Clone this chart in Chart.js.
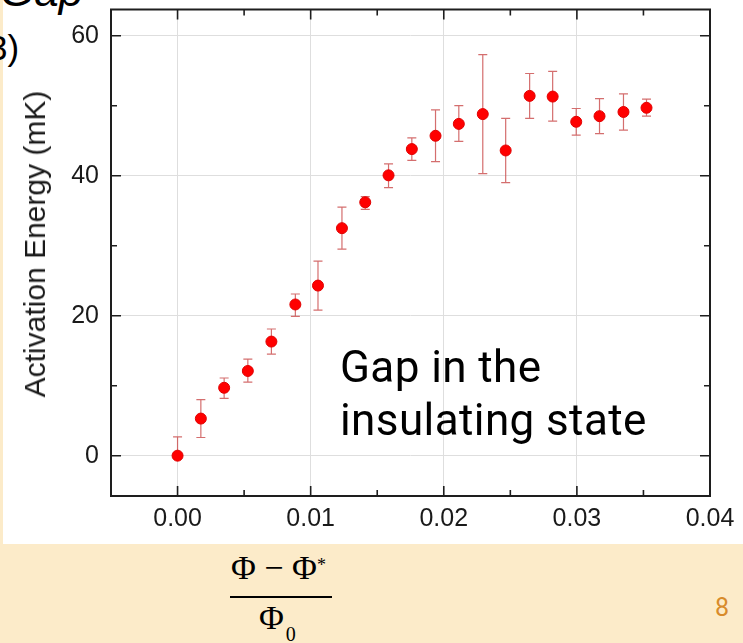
<!DOCTYPE html>
<html>
<head>
<meta charset="utf-8">
<script src="https://cdn.jsdelivr.net/npm/chart.js@4.4.1/dist/chart.umd.min.js"></script>
<style>
  html, body { margin: 0; padding: 0; }
  body { width: 743px; height: 643px; background: #fcebc9; position: relative; overflow: hidden; font-family: "Liberation Sans", Arial, sans-serif; }
  #paper { position: absolute; left: 3px; top: 0; width: 740px; height: 544px; background: #fff; }
  #wrap { position: absolute; left: 0; top: 0; width: 743px; height: 545px; }
  .abs { position: absolute; white-space: nowrap; }
  #ytitle { left: 35px; top: 244px; font-size: 30px; color: #1a1a1a; transform: translate(-50%, -50%) rotate(-90deg); }
  #note { left: 340px; top: 341px; font-family: Roboto, sans-serif; font-size: 44px; line-height: 53px; letter-spacing: 0.4px; color: #000; }
  .frac { font-family: "Liberation Serif", "Times New Roman", serif; font-size: 34px; line-height: 34px; color: #000; }
  #num { left: 231px; top: 551px; }
  #num sup { font-size: 18px; position: relative; top: -3px; vertical-align: top; }
  #bar { position: absolute; left: 230px; top: 596px; width: 102px; height: 1.5px; background: #000; }
  #den { left: 259px; top: 601px; }
  #den sub { font-size: 20px; vertical-align: -12px; margin-left: 2px; }
  #page { left: 715px; top: 595px; font-family: Roboto, sans-serif; font-size: 25px; line-height: 25px; color: #d88b2b; }
  #cut1 { left: 0px; top: -34px; font-size: 44px; font-style: italic; color: #000; }
  #cut2 { left: -12px; top: 28px; font-size: 35px; color: #000; }
</style>
</head>
<body>
<div id="paper"></div>
<div class="abs" id="cut1">Gap</div>
<div class="abs" id="cut2">3)</div>
<div id="wrap"><canvas id="gapChart" width="743" height="545"></canvas></div>
<div class="abs" id="ytitle">Activation Energy (mK)</div>
<div class="abs" id="note">Gap in the<br>insulating state</div>
<div class="abs frac" id="num">Φ − Φ<sup>*</sup></div>
<div id="bar"></div>
<div class="abs frac" id="den">Φ<sub>0</sub></div>
<div class="abs" id="page">8</div>

<script>
// flux offset (Φ-Φ*)/Φ0
const fluxVals = [0, 0.00175, 0.0035, 0.00528, 0.00705, 0.00885, 0.01055, 0.01235, 0.0141, 0.01585, 0.0176,
                  0.01938, 0.02113, 0.02293, 0.02465, 0.02645, 0.02818, 0.02995, 0.0317, 0.0335, 0.03523];
// activation energy (mK)
const gapVals = [0, 5.3, 9.7, 12.1, 16.3, 21.6, 24.3, 32.5, 36.2, 40.05, 43.8,
                 45.7, 47.4, 48.8, 43.6, 51.4, 51.3, 47.7, 48.5, 49.1, 49.7];
// error bars, upper / lower
const errHi = [2.7, 2.7, 1.4, 1.7, 1.8, 1.5, 3.5, 3.0, 0.8, 1.65, 1.6, 3.7, 2.6, 8.5, 4.6, 3.2, 3.6, 1.9, 2.5, 2.6, 1.25];
const errLo = [0, 2.7, 1.5, 1.6, 1.8, 1.7, 3.5, 3.0, 1.0, 1.75, 1.6, 3.7, 2.5, 8.5, 4.6, 3.2, 3.5, 1.9, 2.5, 2.6, 1.2];
// axes
const xRange = [-0.005, 0.04];
const yRange = [-5.76, 63.74];
const xStep = 0.01;
const yStep = 20;

const points = fluxVals.map((x, i) => ({ x: x, y: gapVals[i] }));

// error bars + frame with inward ticks
const errFrame = {
    id: 'errFrame',
    beforeDatasetsDraw(chart) {
        const ctx = chart.ctx, xs = chart.scales.x, ys = chart.scales.y;
        ctx.save();
        ctx.strokeStyle = 'rgba(205,85,85,0.85)';
        ctx.lineWidth = 1.2;
        points.forEach((p, i) => {
            const px = xs.getPixelForValue(p.x);
            const top = ys.getPixelForValue(p.y + errHi[i]);
            const bot = ys.getPixelForValue(p.y - errLo[i]);
            ctx.beginPath();
            ctx.moveTo(px, top); ctx.lineTo(px, bot);
            if (errHi[i] > 0) { ctx.moveTo(px - 4.5, top); ctx.lineTo(px + 4.5, top); }
            if (errLo[i] > 0) { ctx.moveTo(px - 4.5, bot); ctx.lineTo(px + 4.5, bot); }
            ctx.stroke();
        });
        ctx.restore();
    },
    afterDraw(chart) {
        const ctx = chart.ctx, a = chart.chartArea, xs = chart.scales.x, ys = chart.scales.y;
        ctx.save();
        ctx.strokeStyle = '#1e1e1e';
        ctx.lineWidth = 2;
        ctx.strokeRect(a.left, a.top, a.right - a.left, a.bottom - a.top);
        ctx.lineWidth = 1.6;
        const mids = (ticks) => ticks.slice(1).map((t, i) => (t.value + ticks[i].value) / 2);
        ctx.beginPath();
        xs.ticks.forEach(t => {
            const px = xs.getPixelForValue(t.value);
            ctx.moveTo(px, a.bottom); ctx.lineTo(px, a.bottom - 10);
            ctx.moveTo(px, a.top); ctx.lineTo(px, a.top + 10);
        });
        mids(xs.ticks).forEach(v => {
            const px = xs.getPixelForValue(v);
            ctx.moveTo(px, a.bottom); ctx.lineTo(px, a.bottom - 6);
            ctx.moveTo(px, a.top); ctx.lineTo(px, a.top + 6);
        });
        ys.ticks.forEach(t => {
            const py = ys.getPixelForValue(t.value);
            ctx.moveTo(a.left, py); ctx.lineTo(a.left + 10, py);
            ctx.moveTo(a.right, py); ctx.lineTo(a.right - 10, py);
        });
        mids(ys.ticks).forEach(v => {
            const py = ys.getPixelForValue(v);
            ctx.moveTo(a.left, py); ctx.lineTo(a.left + 6, py);
            ctx.moveTo(a.right, py); ctx.lineTo(a.right - 6, py);
        });
        ctx.stroke();
        ctx.restore();
    }
};

let ctx = document.getElementById('gapChart').getContext('2d');
let chart = new Chart(ctx, {
    type: 'scatter',
    data: {
        datasets: [{
            data: points,
            backgroundColor: '#ff0000',
            borderColor: '#e00000',
            borderWidth: 1,
            pointRadius: 5.5,
            showLine: false
        }]
    },
    options: {
        responsive: false,
        animation: false,
        layout: { padding: { top: 9.5, right: 33, left: 0, bottom: 0 } },
        plugins: { legend: { display: false }, tooltip: { enabled: false } },
        scales: {
            x: {
                type: 'linear',
                min: xRange[0], max: xRange[1],
                afterFit(scale) { scale.height = 49; scale.paddingLeft = 0; scale.paddingRight = 0; },
                border: { display: false },
                grid: { color: '#dedede', lineWidth: 1, drawTicks: false },
                ticks: {
                    stepSize: xStep,
                    includeBounds: false,
                    padding: 8,
                    color: '#1a1a1a',
                    font: { family: '"Liberation Sans", Arial, sans-serif', size: 25 },
                    callback: (v) => Math.abs(v) < 1e-9 ? '0.00' : v.toFixed(2)
                }
            },
            y: {
                min: yRange[0], max: yRange[1],
                afterFit(scale) { scale.width = 111; scale.paddingTop = 0; scale.paddingBottom = 0; },
                border: { display: false },
                grid: { color: '#dedede', lineWidth: 1, drawTicks: false },
                ticks: {
                    stepSize: yStep,
                    includeBounds: false,
                    padding: 12,
                    color: '#1a1a1a',
                    font: { family: '"Liberation Sans", Arial, sans-serif', size: 25 },
                    callback: (v) => Math.round(v).toString()
                }
            }
        }
    },
    plugins: [errFrame]
});
</script>
</body>
</html>
